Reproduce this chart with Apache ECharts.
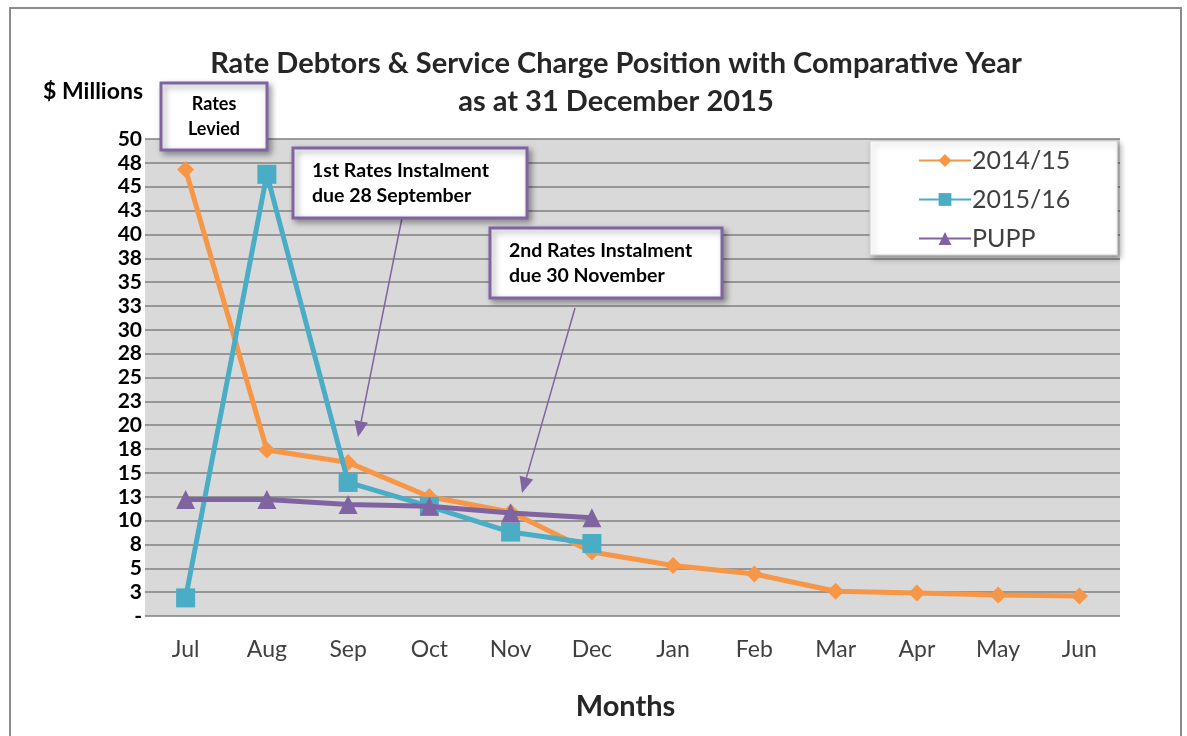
<!DOCTYPE html>
<html>
<head>
<meta charset="utf-8">
<script src="https://cdn.jsdelivr.net/npm/echarts@6/dist/echarts.min.js"></script>
<style>
  html, body { margin: 0; padding: 0; background: #fff; }
  #chart { width: 1187px; height: 736px; }
</style>
</head>
<body>
<div id="chart"></div>
<script>
// data ($ millions)
const months = ["Jul", "Aug", "Sep", "Oct", "Nov", "Dec", "Jan", "Feb", "Mar", "Apr", "May", "Jun"];
const y2014 = [46.8, 17.4, 16.1, 12.5, 10.9, 6.7, 5.3, 4.4, 2.6, 2.4, 2.2, 2.1];
const y2015 = [1.9, 46.3, 14.0, 11.5, 8.8, 7.6];
const pupp = [12.2, 12.2, 11.7, 11.5, 10.8, 10.3];
const yTickLabels = ["-", "3", "5", "8", "10", "13", "15", "18", "20", "23", "25",
  "28", "30", "33", "35", "38", "40", "43", "45", "48", "50"];

const font = "Lato, 'Noto Sans', sans-serif";
const purple = "#8064a2";

var myChart = echarts.init(document.getElementById("chart"));

// note box with purple border
function noteBox (x, y, w, h, text, align, size) {
  return {
    type: "group",
    children: [
      {
        type: "rect",
        shape: { x: x, y: y, width: w, height: h },
        style: {
          fill: "#fff", stroke: purple, lineWidth: 3,
          shadowBlur: 6, shadowOffsetX: 3, shadowOffsetY: 3, shadowColor: "rgba(0,0,0,0.35)",
        },
        z: 10,
      },
      {
        type: "text",
        x: align === "center" ? x + w / 2 : x + 19,
        y: y + h / 2,
        style: {
          text: text, font: "bold " + size + "px " + font, fill: "#000",
          textAlign: align, textVerticalAlign: "middle", lineHeight: 25,
        },
        z: 11,
      },
    ],
  };
}

// thin arrow with a filled head
function arrow (x1, y1, x2, y2) {
  let ang = Math.atan2(y2 - y1, x2 - x1);
  let len = 16, half = 7;
  let bx = x2 - len * Math.cos(ang), by = y2 - len * Math.sin(ang);
  let px = -Math.sin(ang) * half, py = Math.cos(ang) * half;
  return {
    type: "group",
    children: [
      {
        type: "line",
        shape: { x1: x1, y1: y1, x2: bx, y2: by },
        style: { stroke: purple, lineWidth: 1.5 },
        z: 9,
      },
      {
        type: "polygon",
        shape: { points: [[x2, y2], [bx + px, by + py], [bx - px, by - py]] },
        style: { fill: purple },
        z: 9,
      },
    ],
  };
}

let option = {
  animation: false,
  title: {
    text: "Rate Debtors & Service Charge Position with Comparative Year\nas at 31 December 2015",
    left: 611,
    textAlign: "center",
    top: 40,
    textStyle: { fontFamily: font, fontWeight: "bold", fontSize: 29, color: "#262626", lineHeight: 38 },
  },
  legend: {
    orient: "vertical",
    left: 870,
    top: 141,
    padding: [7, 47, 4, 48],
    itemGap: 14,
    itemWidth: 52,
    itemHeight: 16,
    backgroundColor: "#fff",
    borderColor: "#d0d0d0",
    borderWidth: 1,
    shadowBlur: 6,
    shadowOffsetX: 3,
    shadowOffsetY: 3,
    shadowColor: "rgba(0,0,0,0.35)",
    textStyle: { fontFamily: font, fontSize: 25, color: "#404040", padding: [0, 0, 0, -4] },
    data: ["2014/15", "2015/16", "PUPP"],
  },
  grid: { left: 145, top: 139, width: 975, height: 477, backgroundColor: "#d9d9d9", show: true, borderWidth: 0 },
  xAxis: {
    type: "category",
    data: months,
    boundaryGap: true,
    name: "Months",
    nameLocation: "middle",
    nameGap: 76,
    nameTextStyle: { fontFamily: font, fontWeight: "bold", fontSize: 29, color: "#262626", padding: [0, 14, 0, 0] },
    axisLine: { show: false },
    axisTick: { show: false },
    axisLabel: { fontFamily: font, fontSize: 23, color: "#404040", margin: 22 },
  },
  yAxis: {
    type: "value",
    min: 0,
    max: 50,
    interval: 2.5,
    name: "$ Millions",
    nameLocation: "end",
    nameGap: 36,
    nameTextStyle: { fontFamily: font, fontWeight: "bold", fontSize: 23, color: "#000", align: "right", padding: [0, 2, 0, 0] },
    axisLine: { show: false },
    axisTick: { show: false },
    splitLine: { lineStyle: { color: "#7f7f7f", width: 1.5 } },
    axisLabel: {
      fontFamily: font, fontWeight: "bold", fontSize: 21, color: "#000", margin: 3,
      formatter: function (v) { return yTickLabels[Math.round(v / 2.5)]; },
    },
  },
  series: [
    {
      name: "2014/15", type: "line", data: y2014,
      color: "#f79646", lineStyle: { width: 5 },
      symbol: "diamond", symbolSize: 17, z: 3,
    },
    {
      name: "2015/16", type: "line", data: y2015,
      color: "#4bacc6", lineStyle: { width: 5 },
      symbol: "rect", symbolSize: 19, z: 4,
    },
    {
      name: "PUPP", type: "line", data: pupp,
      color: purple, lineStyle: { width: 5 },
      symbol: "triangle", symbolSize: 19, z: 5,
    },
  ],
  graphic: [
    {
      type: "rect",
      shape: { x: 10, y: 8, width: 1171, height: 760 },
      style: { fill: "none", stroke: "#8c8c8c", lineWidth: 2 },
      silent: true,
    },
    arrow(407, 193, 358, 437),
    arrow(575, 308, 522, 493),
    noteBox(161, 83, 106, 67, "Rates\nLevied", "center", 18),
    noteBox(293, 148, 234, 70, "1st Rates Instalment\ndue 28 September", "left", 19.5),
    noteBox(490, 228, 232, 70, "2nd Rates Instalment\ndue 30 November", "left", 19.5),
  ],
};
myChart.setOption(option);
</script>
</body>
</html>
